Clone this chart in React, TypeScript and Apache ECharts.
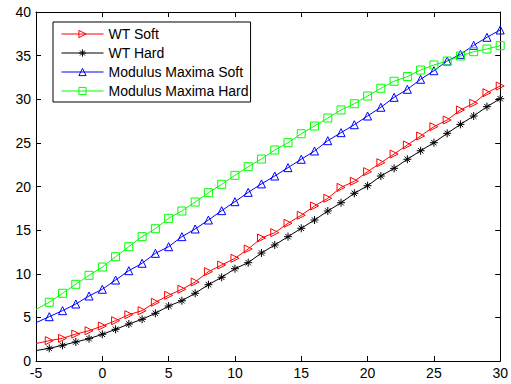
import React, { useEffect, useRef } from "react";
import * as echarts from "echarts";

const xValues = [-5, -4, -3, -2, -1, 0, 1, 2, 3, 4, 5, 6, 7, 8, 9, 10, 11, 12, 13, 14, 15, 16, 17, 18, 19, 20, 21, 22, 23, 24, 25, 26, 27, 28, 29, 30];

const wtSoft = [2.0, 2.33, 2.6, 3.09, 3.47, 4.01, 4.62, 5.31, 5.77, 6.73, 7.53, 8.22, 9.05, 10.24, 11.0, 11.77, 12.84, 14.1, 14.71, 15.78, 16.7, 17.77, 18.65, 19.9, 20.6, 21.7, 22.73, 23.72, 24.76, 25.79, 26.86, 27.62, 28.77, 29.54, 30.75, 31.52];
const wtHard = [1.2, 1.45, 1.8, 2.18, 2.56, 3.06, 3.63, 4.24, 4.78, 5.47, 6.3, 6.91, 7.76, 8.75, 9.59, 10.58, 11.27, 12.38, 13.3, 14.25, 15.21, 16.16, 17.19, 18.14, 19.22, 20.09, 21.2, 22.08, 23.12, 24.1, 25.02, 26.09, 27.12, 28.08, 29.15, 30.06];
const mmSoft = [4.39, 5.08, 5.77, 6.53, 7.45, 8.22, 9.28, 10.35, 11.2, 12.34, 13.1, 14.25, 15.13, 16.16, 17.23, 18.26, 19.33, 20.3, 21.2, 22.16, 23.12, 24.07, 25.25, 26.17, 27.08, 28.08, 29.08, 30.22, 31.14, 32.29, 33.27, 34.38, 35.15, 36.18, 37.1, 37.94];
const mmHard = [5.93, 6.73, 7.76, 8.79, 9.82, 10.77, 11.95, 13.1, 14.25, 15.16, 16.35, 17.19, 18.22, 19.29, 20.25, 21.28, 22.27, 23.15, 24.18, 25.02, 26.05, 26.93, 27.85, 28.77, 29.49, 30.37, 31.26, 32.06, 32.6, 33.35, 33.93, 34.38, 34.96, 35.45, 35.76, 36.14];

const seriesNames = ["WT Soft", "WT Hard", "Modulus Maxima Soft", "Modulus Maxima Hard"];
const seriesColors = ["#ff0000", "#000000", "#0000ff", "#00ff00"];
const xTicks = { min: -5, max: 30, interval: 5 };
const yTicks = { min: 0, max: 40, interval: 5 };

const FONT = "'Liberation Sans', Arial, sans-serif";
const STAR = "path://M5,0L5,10M0,5L10,5M1.6,1.6L8.4,8.4M1.6,8.4L8.4,1.6";
const HOLLOW = "rgba(255,255,255,0)";

function pts(vals: number[]) {
  return xValues.map((x, i) =>
    i === 0 ? { value: [x, vals[i]], symbol: "none" } : { value: [x, vals[i]] }
  );
}

export default function App() {
  const ref = useRef<HTMLDivElement>(null);
  useEffect(() => {
    if (!ref.current) return;
    const chart = echarts.init(ref.current, null, { renderer: "svg" });
    const axisCommon = {
      type: "value" as const,
      axisLine: { show: true, onZero: false, lineStyle: { color: "#000", width: 1 } },
      axisTick: { show: true, inside: true, length: 5, lineStyle: { color: "#000" } },
      splitLine: { show: false },
    };
    const symbols = ["triangle", STAR, "triangle", "rect"];
    const rotates = [-90, 0, 0, 0];
    const fills = [HOLLOW, "#000000", HOLLOW, HOLLOW];
    const mk = (i: number, vals: number[]) => ({
      name: seriesNames[i],
      type: "line",
      data: pts(vals),
      symbol: symbols[i],
      symbolSize: 8,
      symbolRotate: rotates[i],
      showAllSymbol: true,
      clip: false,
      lineStyle: { color: seriesColors[i], width: 1 },
      itemStyle: { color: fills[i], borderColor: seriesColors[i], borderWidth: 1 },
      emphasis: { disabled: true },
    });
    chart.setOption({
      animation: false,
      backgroundColor: "#fff",
      grid: { left: 36, right: 9, top: 12, bottom: 23 },
      xAxis: [
        {
          ...axisCommon,
          position: "bottom",
          ...xTicks,
          axisLabel: { color: "#000", fontSize: 14, fontFamily: FONT, margin: 5 },
        },
        { ...axisCommon, position: "top", ...xTicks, axisLabel: { show: false } },
      ],
      yAxis: [
        {
          ...axisCommon,
          position: "left",
          ...yTicks,
          axisLabel: { color: "#000", fontSize: 14, fontFamily: FONT, margin: 5 },
        },
        { ...axisCommon, position: "right", ...yTicks, axisLabel: { show: false } },
      ],
      legend: {
        orient: "vertical",
        left: 53,
        top: 22,
        data: seriesNames.map((name, i) => ({
          name,
          itemStyle: { color: fills[i], borderColor: seriesColors[i], borderWidth: 1 },
          lineStyle: { color: seriesColors[i], width: 1 },
        })),
        symbolRotate: "inherit",
        backgroundColor: "#fff",
        borderColor: "#000",
        borderWidth: 1,
        padding: [5, 2, 4, 8],
        itemWidth: 42,
        itemHeight: 9,
        itemGap: 5,
        lineStyle: { width: 1 },
        textStyle: { color: "#000", fontSize: 14, fontFamily: FONT },
      },
      series: [mk(0, wtSoft), mk(1, wtHard), mk(2, mmSoft), mk(3, mmHard)],
    });
    return () => chart.dispose();
  }, []);
  return (
    <div
      ref={ref}
      style={{ position: "fixed", left: 0, top: 0, width: 511, height: 384, background: "#fff" }}
    />
  );
}
